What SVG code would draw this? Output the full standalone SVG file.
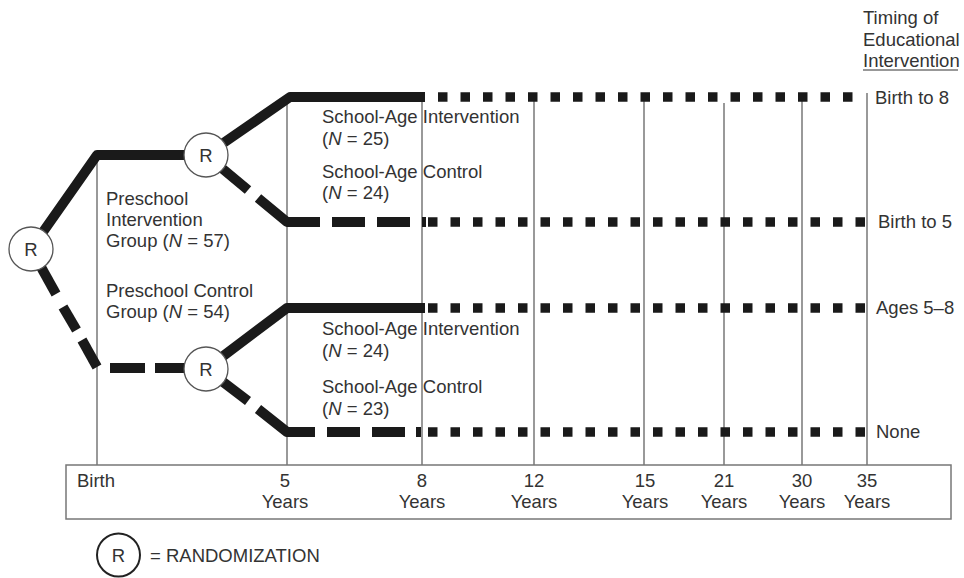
<svg xmlns="http://www.w3.org/2000/svg" width="964" height="578" viewBox="0 0 964 578">
<style>
.grid{stroke:#777;stroke-width:1.5;fill:none}
.thick{stroke:#1a1a1a;stroke-width:10;fill:none;stroke-linejoin:round;stroke-linecap:butt}
.dot{stroke:#1a1a1a;stroke-width:9.5;fill:none;stroke-dasharray:9.5 13}
.t{font-family:"Liberation Sans",Arial,Helvetica,sans-serif;font-size:18.5px;fill:#333}
.mid{text-anchor:middle}
.node{fill:#fff;stroke:#555;stroke-width:1.3}
.it{font-style:italic}
</style>
<rect width="964" height="578" fill="#fff"/>
<g id="timeline">
<line class="grid" x1="97" y1="157" x2="97" y2="465"/>
<line class="grid" x1="287" y1="100" x2="287" y2="465"/>
<line class="grid" x1="422" y1="98" x2="422" y2="465"/>
<line class="grid" x1="534" y1="96" x2="534" y2="465"/>
<line class="grid" x1="644" y1="96" x2="644" y2="465"/>
<line class="grid" x1="724" y1="103" x2="724" y2="465"/>
<line class="grid" x1="802" y1="96" x2="802" y2="465"/>
<line class="grid" x1="867" y1="93" x2="867" y2="465"/>
<rect x="66" y="465" width="885" height="54" fill="none" stroke="#777" stroke-width="1.5"/>
<text class="t" x="77" y="487">Birth</text>
<text class="t mid" x="285" y="487">5</text><text class="t mid" x="285" y="508">Years</text>
<text class="t mid" x="422" y="487">8</text><text class="t mid" x="422" y="508">Years</text>
<text class="t mid" x="534" y="487">12</text><text class="t mid" x="534" y="508">Years</text>
<text class="t mid" x="645" y="487">15</text><text class="t mid" x="645" y="508">Years</text>
<text class="t mid" x="724" y="487">21</text><text class="t mid" x="724" y="508">Years</text>
<text class="t mid" x="802" y="487">30</text><text class="t mid" x="802" y="508">Years</text>
<text class="t mid" x="867" y="487">35</text><text class="t mid" x="867" y="508">Years</text>
</g>
<g id="connectors">
<path class="thick" d="M31 249 L97 155 L206 155"/>
<path class="thick" d="M206 155 L290 97 L425 97"/>
<path class="dot" d="M438 97 H856"/>
<path class="thick" d="M206 155 L248 190"/>
<path class="thick" d="M258 198 L287 222 L320 222"/>
<path class="thick" d="M332 222 H365 M377 222 H410 M422 222 H426"/>
<path class="dot" d="M428 222 H868"/>
<path class="thick" d="M31 249 L56 294"/>
<path class="thick" d="M63 307 L76.5 330"/>
<path class="thick" d="M82 340 L97 367"/>
<path class="thick" d="M110 368 H145 M155 368 H206"/>
<path class="thick" d="M206 369 L287 308 L425 308"/>
<path class="dot" d="M428 308 H868"/>
<path class="thick" d="M206 369 L248 401"/>
<path class="thick" d="M258 409 L287 432 L315 432"/>
<path class="thick" d="M327 432 H360 M372 432 H405 M416 432 H421"/>
<path class="dot" d="M428 432 H868"/>
</g>
<g id="r-main">
<circle class="node" cx="31" cy="249" r="22"/>
<text class="t mid" x="31" y="255.5" font-size="17">R</text>
</g>
<g id="r-preschool-int">
<circle class="node" cx="206" cy="155" r="22"/>
<text class="t mid" x="206" y="161.5" font-size="17">R</text>
</g>
<g id="r-preschool-ctrl">
<circle class="node" cx="206" cy="369" r="22"/>
<text class="t mid" x="206" y="375.5" font-size="17">R</text>
</g>
<g id="label-preschool-int">
<text class="t" x="106" y="205">Preschool</text>
<text class="t" x="106" y="226">Intervention</text>
<text class="t" x="106" y="247">Group (<tspan class="it">N</tspan> = 57)</text>
</g>
<g id="label-preschool-ctrl">
<text class="t" x="106" y="297">Preschool Control</text>
<text class="t" x="106" y="318">Group (<tspan class="it">N</tspan> = 54)</text>
</g>
<g id="label-sa-int-1">
<text class="t" x="322" y="123">School-Age Intervention</text>
<text class="t" x="322" y="145">(<tspan class="it">N</tspan> = 25)</text>
</g>
<g id="label-sa-ctrl-1">
<text class="t" x="322" y="178">School-Age Control</text>
<text class="t" x="322" y="199">(<tspan class="it">N</tspan> = 24)</text>
</g>
<g id="label-sa-int-2">
<text class="t" x="322" y="335">School-Age Intervention</text>
<text class="t" x="322" y="357">(<tspan class="it">N</tspan> = 24)</text>
</g>
<g id="label-sa-ctrl-2">
<text class="t" x="322" y="393">School-Age Control</text>
<text class="t" x="322" y="415">(<tspan class="it">N</tspan> = 23)</text>
</g>
<g id="timing-header">
<text class="t" x="863" y="24">Timing of</text>
<text class="t" x="863" y="46">Educational</text>
<text class="t" x="863" y="67">Intervention</text>
<line x1="863" y1="70" x2="958" y2="70" stroke="#333" stroke-width="1.2"/>
</g>
<g id="timing-labels">
<text class="t" x="875" y="104">Birth to 8</text>
<text class="t" x="878" y="228">Birth to 5</text>
<text class="t" x="876" y="314">Ages 5–8</text>
<text class="t" x="876" y="438">None</text>
</g>
<g id="legend">
<circle cx="118.5" cy="555" r="21.5" fill="#fff" stroke="#222" stroke-width="2"/>
<text class="t mid" x="118.5" y="561.5" font-size="17">R</text>
<text class="t" x="150" y="562">= RANDOMIZATION</text>
</g>
</svg>
